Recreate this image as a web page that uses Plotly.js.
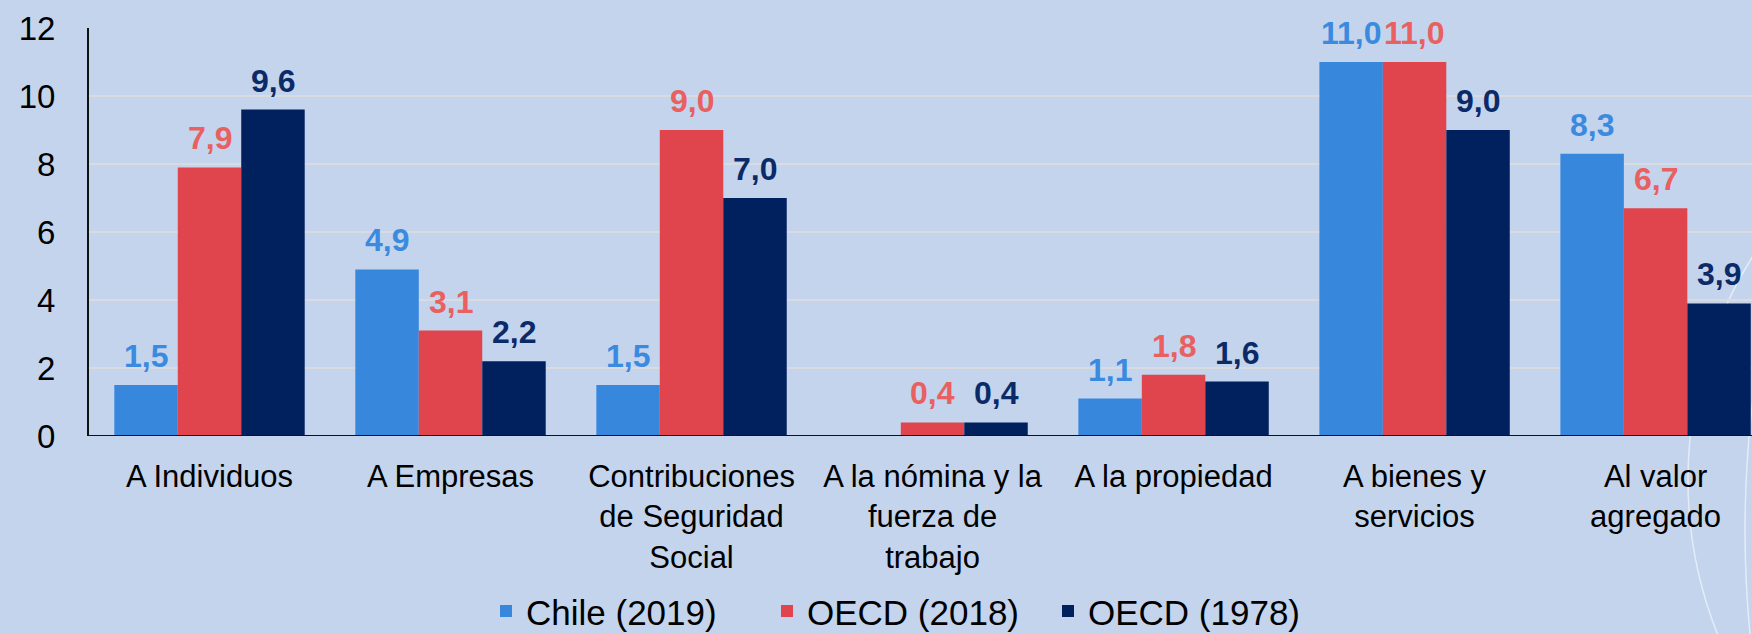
<!DOCTYPE html>
<html>
<head>
<meta charset="utf-8">
<script src="https://cdn.plot.ly/plotly-3.0.1.min.js"></script>
<style>
  html, body { margin: 0; padding: 0; background: #c4d4ed; }
  #chart { width: 1752px; height: 634px; }
</style>
</head>
<body>
<div id="chart"></div>
<script>
const categories = [
  "A Individuos",
  "A Empresas",
  "Contribuciones<br>de Seguridad<br>Social",
  "A la nómina y la<br>fuerza de<br>trabajo",
  "A la propiedad",
  "A bienes y<br>servicios",
  "Al valor<br>agregado"
];
const seriesNames = ["Chile (2019)", "OECD (2018)", "OECD (1978)"];
const chile2019 = [1.5, 4.9, 1.5, null, 1.1, 11.0, 8.3];
const oecd2018 = [7.9, 3.1, 9.0, 0.4, 1.8, 11.0, 6.7];
const oecd1978 = [9.6, 2.2, 7.0, 0.4, 1.6, 9.0, 3.9];
const yTicks = [0, 2, 4, 6, 8, 10, 12];

const barColors = ["#3787dd", "#e0454d", "#00205e"];
const labelColors = ["#3a8ae0", "#e8605f", "#0b2a68"];
const allSeries = [chile2019, oecd2018, oecd1978];

const FONT = "Liberation Sans, Arial, Helvetica, sans-serif";
const bargap = 0.21;
const barW = (1 - bargap) / 3;
const xIdx = categories.map((c, i) => i);

const traces = allSeries.map((vals, k) => ({
  type: "bar",
  name: seriesNames[k],
  x: xIdx,
  y: vals,
  marker: { color: barColors[k] },
  hoverinfo: "skip"
}));

const fmt = v => v.toFixed(1).replace(".", ",");
const annotations = [];
allSeries.forEach((vals, k) => {
  vals.forEach((v, i) => {
    if (v === null) return;
    annotations.push({
      xref: "x", yref: "y",
      x: i + (k - 1) * barW,
      y: v,
      text: "<b>" + fmt(v) + "</b>",
      showarrow: false,
      xanchor: "center", yanchor: "bottom",
      yshift: 9,
      font: { family: FONT, size: 32, color: labelColors[k] }
    });
  });
});

const layout = {
  width: 1752, height: 634,
  paper_bgcolor: "#c4d4ed",
  plot_bgcolor: "#c4d4ed",
  margin: { l: 89, r: 0, t: 28, b: 198, autoexpand: false },
  barmode: "group",
  bargap: bargap,
  bargroupgap: 0,
  showlegend: true,
  legend: {
    orientation: "h",
    xref: "container", yref: "container",
    x: 0.2774, xanchor: "left",
    y: 0.036, yanchor: "middle",
    entrywidth: 236, entrywidthmode: "pixels",
    font: { family: FONT, size: 35, color: "#000" },
    bgcolor: "rgba(0,0,0,0)",
    itemclick: false, itemdoubleclick: false
  },
  xaxis: {
    type: "linear",
    range: [-0.5, 6.4],
    tickmode: "array",
    tickvals: xIdx,
    ticktext: categories,
    showgrid: false,
    zeroline: false,
    showline: false,
    ticks: "",
    automargin: false,
    ticklabelstandoff: 19,
    tickfont: { family: FONT, size: 31, color: "#000" }
  },
  yaxis: {
    range: [0, 12],
    tickmode: "array",
    tickvals: yTicks,
    ticktext: yTicks.map(String),
    showgrid: true,
    gridcolor: "#d9dbe0",
    gridwidth: 1.5,
    zeroline: false,
    showline: true,
    linecolor: "#111",
    linewidth: 2,
    ticks: "",
    automargin: false,
    ticklabelstandoff: 25,
    tickfont: { family: FONT, size: 33, color: "#000" }
  },
  shapes: [
    { type: "line", xref: "paper", yref: "y", x0: 0, x1: 1, y0: 0, y1: 0,
      line: { color: "#111", width: 2 }, layer: "above" },
    { type: "circle", xref: "paper", yref: "paper", layer: "below",
      x0: 0.9615, x1: 1.4642, y0: -1.132, y1: 0.9167,
      line: { color: "rgba(255,255,255,0.55)", width: 1.5 } },
    { type: "circle", xref: "paper", yref: "paper", layer: "below",
      x0: 0.9958, x1: 2.274, y0: -2.836, y1: 2.375,
      line: { color: "rgba(255,255,255,0.55)", width: 1.5 } }
  ],
  annotations: annotations
};

Plotly.newPlot("chart", traces, layout, { staticPlot: true, displayModeBar: false });
</script>
</body>
</html>
